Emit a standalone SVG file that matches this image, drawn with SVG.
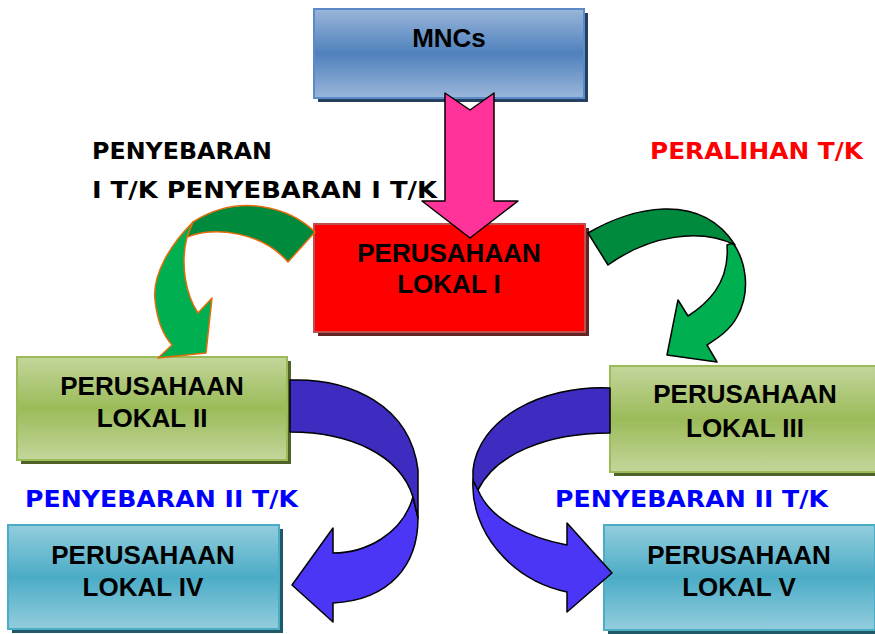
<svg xmlns="http://www.w3.org/2000/svg" width="875" height="634" viewBox="0 0 875 634">
<defs>
<linearGradient id="gBlue" x1="0" y1="0" x2="0" y2="1">
<stop offset="0" stop-color="#9ab6da"/><stop offset="0.5" stop-color="#4f81bd"/><stop offset="1" stop-color="#9ab6da"/>
</linearGradient>
<linearGradient id="gGreen" x1="0" y1="0" x2="0" y2="1">
<stop offset="0" stop-color="#c3d69b"/><stop offset="0.5" stop-color="#9bbb59"/><stop offset="1" stop-color="#c3d69b"/>
</linearGradient>
<linearGradient id="gTeal" x1="0" y1="0" x2="0" y2="1">
<stop offset="0" stop-color="#93cddd"/><stop offset="0.5" stop-color="#4bacc6"/><stop offset="1" stop-color="#93cddd"/>
</linearGradient>
<style>
.bt{font-family:"Liberation Sans",Arial,sans-serif;font-weight:bold;font-size:26px;fill:#000;text-anchor:middle}
.lb{font-family:"DejaVu Sans",Verdana,sans-serif;font-weight:bold;font-size:23px}
.ga{stroke:#e46c0a;stroke-width:1.5;stroke-linejoin:round}
.gb{stroke:#000;stroke-width:1.5;stroke-linejoin:round}
</style>
</defs>
<rect width="875" height="634" fill="#fff"/>

<g id="node-mncs">
<rect x="318" y="13" width="270" height="89" fill="#243f60"/>
<rect x="314" y="9" width="270" height="89" fill="url(#gBlue)" stroke="#5b8bc7" stroke-width="2"/>
<text class="bt" x="449" y="47">MNCs</text>
</g>
<g id="node-lokal1">
<rect x="318" y="228" width="271" height="108" fill="#632523"/>
<rect x="314" y="224" width="271" height="108" fill="#ff0000" stroke="#c0504d" stroke-width="2"/>
<text class="bt" x="449" y="262">PERUSAHAAN</text>
<text class="bt" x="449" y="293">LOKAL I</text>
</g>
<g id="node-lokal2">
<rect x="21" y="361" width="270" height="103" fill="#4f6228"/>
<rect x="17" y="357" width="270" height="103" fill="url(#gGreen)" stroke="#9bbb59" stroke-width="2"/>
<text class="bt" x="152" y="395">PERUSAHAAN</text>
<text class="bt" x="152" y="427">LOKAL II</text>
</g>
<g id="node-lokal3">
<rect x="614" y="370" width="270" height="106" fill="#4f6228"/>
<rect x="610" y="366" width="270" height="106" fill="url(#gGreen)" stroke="#9bbb59" stroke-width="2"/>
<text class="bt" x="745" y="403">PERUSAHAAN</text>
<text class="bt" x="745" y="437">LOKAL III</text>
</g>
<g id="node-lokal4">
<rect x="12" y="529" width="271" height="104" fill="#215968"/>
<rect x="8" y="525" width="271" height="104" fill="url(#gTeal)" stroke="#4bacc6" stroke-width="2"/>
<text class="bt" x="143" y="564">PERUSAHAAN</text>
<text class="bt" x="143" y="596">LOKAL IV</text>
</g>
<g id="node-lokal5">
<rect x="608" y="529" width="271" height="105" fill="#215968"/>
<rect x="604" y="525" width="271" height="105" fill="url(#gTeal)" stroke="#4bacc6" stroke-width="2"/>
<text class="bt" x="739" y="564">PERUSAHAAN</text>
<text class="bt" x="739" y="596">LOKAL V</text>
</g>

<g id="connectors">
<path class="gb" fill="#ff3399" d="M445,93 L470,110 L494,93 L494,201 L518,201 L470,238 L422,201 L445,201 Z"/>
<path class="ga" fill="#00b050" d="M193,222 C170,245 152,275 155,300 C157,320 163,335 172,345 L158,358 L206,353 L212,298 L198,313 C186,295 180,265 187,237 Z"/>
<path class="ga" fill="#008a3e" d="M315,232 C290,208 240,192 193,222 L187,237 C215,226 262,232 288,262 Z"/>
<path class="gb" fill="#00b050" d="M733,243 C745,260 752,290 737,317 C730,330 718,338 707,345 L717,362 L667,355 L678,300 L688,316 C705,305 730,285 727,245 Z"/>
<path class="gb" fill="#008a3e" d="M588,233 C630,208 700,190 735,245 C700,228 650,235 608,265 Z"/>
<path class="gb" fill="#4b36f6" d="M413,497 L418,518 C418,565 390,600 333,603 L333,622 L292,585 L333,528 L333,553 C365,553 402,535 413,497 Z"/>
<path class="gb" fill="#3e2cc0" d="M290,380 C350,378 410,405 418,470 L418,518 L413,497 C400,455 350,432 290,432 Z"/>
<path class="gb" fill="#4b36f6" d="M473,480 C470,530 510,580 567,592 L567,612 L612,573 L567,523 L567,545 C530,538 490,520 478,490 Z"/>
<path class="gb" fill="#3e2cc0" d="M610,388 C540,385 478,420 473,470 L473,480 L478,490 C495,455 545,433 610,433 Z"/>
</g>

<g id="labels">
<text class="lb" x="92" y="159" textLength="180" lengthAdjust="spacingAndGlyphs">PENYEBARAN</text>
<text class="lb" x="92" y="198" textLength="345" lengthAdjust="spacingAndGlyphs">I T/K  PENYEBARAN I T/K</text>
<text class="lb" x="650" y="159" fill="#ff0000" textLength="213" lengthAdjust="spacingAndGlyphs">PERALIHAN T/K</text>
<text class="lb" x="25" y="507" fill="#0000ff" font-size="24" textLength="273" lengthAdjust="spacingAndGlyphs">PENYEBARAN II T/K</text>
<text class="lb" x="555" y="507" fill="#0000ff" font-size="24" textLength="273" lengthAdjust="spacingAndGlyphs">PENYEBARAN II T/K</text>
</g>
</svg>
